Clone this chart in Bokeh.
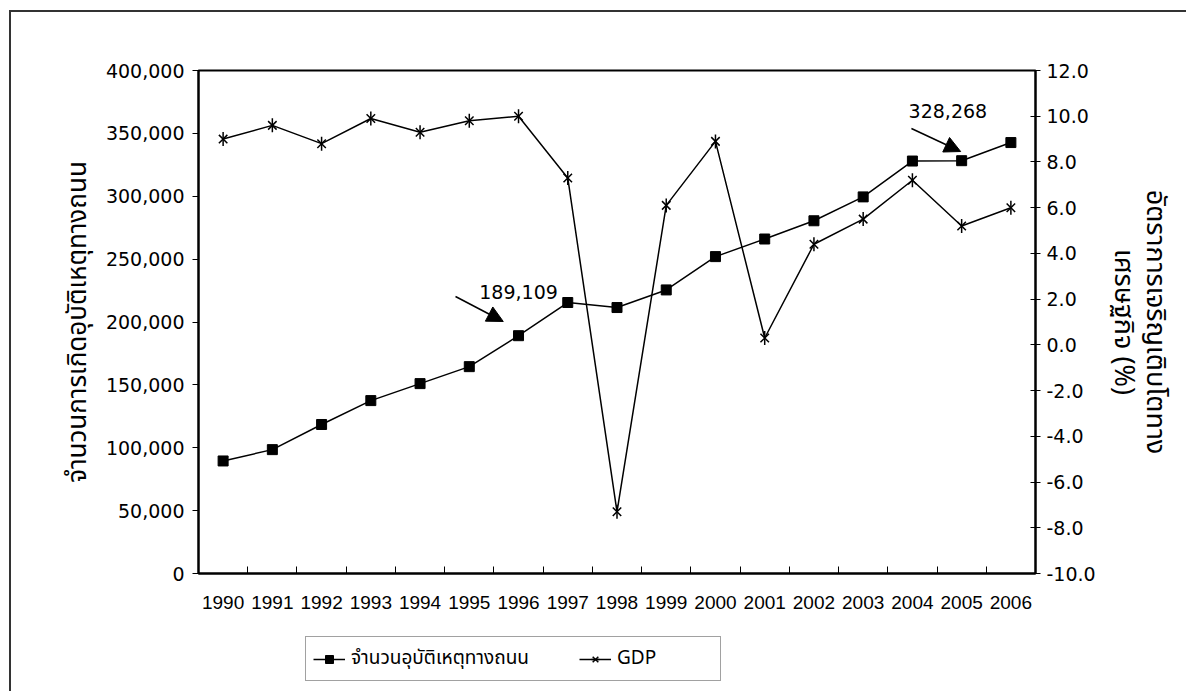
from math import pi

from bokeh.embed import file_html
from bokeh.layouts import column
from bokeh.models import (Arrow, ColumnDataSource, FixedTicker, Label, Legend, LegendItem,
                          LinearAxis, NormalHead, NumeralTickFormatter, Range1d)
from bokeh.plotting import figure
from bokeh.resources import INLINE

# --- data -------------------------------------------------------------
years = ["1990", "1991", "1992", "1993", "1994", "1995", "1996", "1997", "1998",
         "1999", "2000", "2001", "2002", "2003", "2004", "2005", "2006"]
accidents = [89500, 98500, 118500, 137500, 151000, 164500, 189109, 215500, 211500,
             225500, 252000, 266000, 280500, 299500, 328000, 328268, 342700]
gdp_growth = [9.0, 9.6, 8.8, 9.9, 9.3, 9.8, 10.0, 7.3, -7.3,
              6.1, 8.9, 0.3, 4.4, 5.5, 7.2, 5.2, 6.0]
left_ticks = [0, 50000, 100000, 150000, 200000, 250000, 300000, 350000, 400000]
right_ticks = [-10, -8, -6, -4, -2, 0, 2, 4, 6, 8, 10, 12]
callout_years = ["1996", "2005"]

acc_label = "จำนวนอุบัติเหตุทางถนน"
gdp_label = "GDP"
left_title = "จำนวนการเกิดอุบัติเหตุทางถนน"
right_title = "อัตราการเจริญเติบโตทาง\nเศรษฐกิจ (%)"

# --- styling ----------------------------------------------------------
NUM_FONT = "DejaVu Sans"
YEAR_FONT = "'Liberation Sans', Arial, sans-serif"
THAI_FONT = "'Noto Sans Thai', 'Noto Sans Thai UI', Loma, Garuda, 'Noto Sans', sans-serif"
INK = "black"
FRAME = "#333333"
LINE_W = 1.5

xs = list(range(len(years)))
src = ColumnDataSource(dict(x=xs, acc=accidents, gdp=gdp_growth))

# main chart; its left/top CSS border forms the outer chart frame
p = figure(width=1177, height=620, output_backend="svg", toolbar_location=None,
           x_range=Range1d(-0.5, len(years) - 0.5), y_range=Range1d(0, 400000),
           x_axis_location=None, y_axis_location=None,
           min_border_left=187, min_border_right=153,
           min_border_top=58, min_border_bottom=59,
           styles={"margin-left": "9px", "margin-top": "10px",
                   "border-left": f"2px solid {FRAME}",
                   "border-top": f"2px solid {FRAME}"})
p.extra_y_ranges = {"gdp": Range1d(-10, 12)}
p.grid.visible = False
p.outline_line_color = INK
p.outline_line_width = 2
p.background_fill_color = "white"
p.border_fill_color = "white"

# left axis: accident counts
yl = LinearAxis(ticker=FixedTicker(ticks=left_ticks),
                formatter=NumeralTickFormatter(format="0,0"),
                axis_label=left_title)
yl.axis_line_color = INK
yl.axis_line_width = 2
yl.major_tick_in = 0
yl.major_tick_out = 6
yl.major_tick_line_color = INK
yl.minor_tick_line_color = None
yl.major_label_text_font = NUM_FONT
yl.major_label_text_font_size = "19px"
yl.major_label_text_color = INK
yl.major_label_standoff = 8
yl.axis_label_text_font = THAI_FONT
yl.axis_label_text_font_size = "26px"
yl.axis_label_text_font_style = "normal"
yl.axis_label_text_color = INK
yl.axis_label_standoff = 5
p.add_layout(yl, "left")

# right axis: GDP growth
yr = LinearAxis(y_range_name="gdp", ticker=FixedTicker(ticks=right_ticks),
                formatter=NumeralTickFormatter(format="0.0"),
                axis_label=right_title)
yr.axis_line_color = INK
yr.axis_line_width = 2
yr.major_tick_in = 5
yr.major_tick_out = 5
yr.major_tick_line_color = INK
yr.minor_tick_line_color = None
yr.major_label_text_font = NUM_FONT
yr.major_label_text_font_size = "19px"
yr.major_label_text_color = INK
yr.major_label_standoff = 6
yr.axis_label_text_font = THAI_FONT
yr.axis_label_text_font_size = "27px"
yr.axis_label_text_line_height = 0.8
yr.axis_label_text_font_style = "normal"
yr.axis_label_text_color = INK
yr.axis_label_standoff = 4
p.add_layout(yr, "right")

# bottom axis: year labels at category centres, tick marks between categories
xb = LinearAxis(ticker=FixedTicker(ticks=xs, minor_ticks=[x - 0.5 for x in xs] + [xs[-1] + 0.5]),
                major_label_overrides={x: y for x, y in zip(xs, years)})
xb.axis_line_color = INK
xb.axis_line_width = 2
xb.major_tick_line_color = None
xb.minor_tick_line_color = INK
xb.minor_tick_in = 7
xb.minor_tick_out = 0
xb.major_label_text_font = YEAR_FONT
xb.major_label_text_font_size = "19px"
xb.major_label_text_color = INK
xb.major_label_standoff = 16
p.add_layout(xb, "below")

# series
l_acc = p.line("x", "acc", source=src, line_color=INK, line_width=LINE_W)
m_acc = p.scatter("x", "acc", source=src, marker="square", size=10,
                  fill_color=INK, line_color=INK)
l_gdp = p.line("x", "gdp", source=src, y_range_name="gdp", line_color=INK, line_width=LINE_W)
m_gdp_x = p.scatter("x", "gdp", source=src, y_range_name="gdp", marker="x", size=12,
                    line_color=INK, line_width=LINE_W)
m_gdp_v = p.scatter("x", "gdp", source=src, y_range_name="gdp", marker="dash", size=14,
                    angle=pi / 2, line_color=INK, line_width=LINE_W)

# call-outs with arrows pointing at selected accident counts
offsets = {
    "1996": dict(tx=0.0, ty=34800, sx=-1.28, sy=31200, ex=-0.31, ey=11300),
    "2005": dict(tx=-0.28, ty=39500, sx=-1.02, sy=25600, ex=-0.02, ey=7300),
}
for yr_name in callout_years:
    i = years.index(yr_name)
    v = accidents[i]
    o = offsets[yr_name]
    p.add_layout(Arrow(end=NormalHead(size=16, fill_color=INK, line_color=INK),
                       x_start=i + o["sx"], y_start=v + o["sy"],
                       x_end=i + o["ex"], y_end=v + o["ey"],
                       line_color=INK, line_width=LINE_W))
    p.add_layout(Label(x=i + o["tx"], y=v + o["ty"], text=f"{v:,}",
                       text_align="center", text_baseline="middle",
                       text_font=NUM_FONT, text_font_size="19px", text_color=INK))

# legend strip underneath the chart (keeps the left frame line going).
# Its renderers reuse the series data, which all lies outside this strip's ranges,
# so only their legend swatches show.
lg = figure(width=1177, height=61, output_backend="svg", toolbar_location=None,
            x_range=Range1d(-3, -2), y_range=Range1d(-3, -2),
            x_axis_location=None, y_axis_location=None,
            min_border_left=0, min_border_right=0, min_border_top=0, min_border_bottom=0,
            styles={"margin-left": "9px", "border-left": f"2px solid {FRAME}"})
lg.grid.visible = False
lg.outline_line_color = None
lg.background_fill_color = "white"
lg.border_fill_color = "white"
k_acc_l = lg.line("x", "acc", source=src, line_color=INK, line_width=LINE_W)
k_acc_m = lg.scatter("x", "acc", source=src, marker="square", size=10,
                     fill_color=INK, line_color=INK)
k_gdp_l = lg.line("x", "gdp", source=src, line_color=INK, line_width=LINE_W)
k_gdp_x = lg.scatter("x", "gdp", source=src, marker="x", size=12,
                     line_color=INK, line_width=LINE_W)
k_gdp_v = lg.scatter("x", "gdp", source=src, marker="dash", size=14, angle=pi / 2,
                     line_color=INK, line_width=LINE_W)

legend = Legend(items=[LegendItem(label=acc_label, renderers=[k_acc_l, k_acc_m]),
                       LegendItem(label=gdp_label, renderers=[k_gdp_l, k_gdp_x, k_gdp_v])],
                orientation="horizontal", location=(107, 10))
legend.label_text_font = THAI_FONT
legend.label_text_font_size = "19px"
legend.label_text_color = INK
legend.glyph_width = 32
legend.label_standoff = 6
legend.label_width = 96
legend.spacing = 50
legend.padding = 7
legend.margin = 0
legend.border_line_color = "#444444"
legend.border_line_width = 1
legend.background_fill_color = "white"
legend.background_fill_alpha = 1
lg.add_layout(legend, "center")

page = column(p, lg, spacing=0)
open("out.html", "w").write(file_html(page, INLINE))
